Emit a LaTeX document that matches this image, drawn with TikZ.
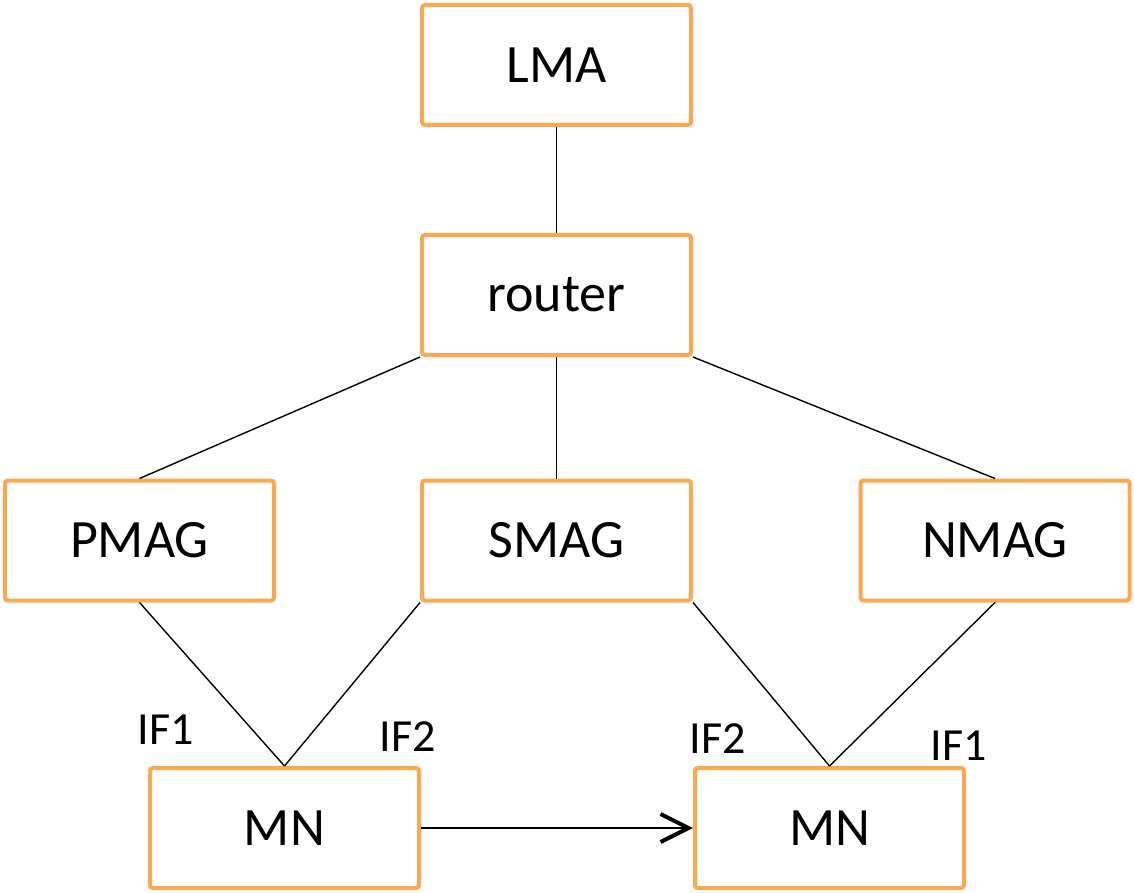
\documentclass[tikz,border=0pt]{standalone}
\usepackage{fontspec}
\setmainfont{Carlito}
\usetikzlibrary{arrows.meta,positioning}
\definecolor{boxorange}{RGB}{250,168,82}

\begin{document}
\begin{tikzpicture}[
    x=0.5pt, y=-0.5pt,
    ent/.style={draw=boxorange, line width=2pt, rounded corners=1.5pt, fill=white,
                minimum width=134.5pt, minimum height=60pt, font=\fontsize{27}{30}\selectfont},
    ifl/.style={font=\fontsize{23}{26}\selectfont},
    link/.style={line width=0.7pt},
  ]
    \useasboundingbox (0,0) rectangle (1134,893);
    \node[ent] (lma) at (556.5,65) {LMA};
    \node[ent] (rtr) at (556.5,295) {router};
    \node[ent] (pmag) at (139.5,540.5) {PMAG};
    \node[ent] (smag) at (556.5,540.5) {SMAG};
    \node[ent] (nmag) at (995,540.5) {NMAG};
    \node[ent] (mn1) at (284.5,828) {MN};
    \node[ent] (mn2) at (829.5,828) {MN};

    \draw[link] (lma) -- (rtr);
    \draw[link] (rtr.south west) -- (pmag.north);
    \draw[link] (rtr) -- (smag);
    \draw[link] (rtr.south east) -- (nmag.north);
    \draw[link] (pmag.south) -- (mn1.north);
    \draw[link] (smag.south west) -- (mn1.north);
    \draw[link] (smag.south east) -- (mn2.north);
    \draw[link] (nmag.south) -- (mn2.north);
    \draw[line width=1pt, -{Straight Barb[length=14pt, width=14pt, line width=2pt]}] (mn1) -- (mn2);

    % interface labels
    \node[ifl] (if1a) at (166,730) {IF1};
    \node[ifl] (if2a) at (408,737) {IF2};
    \node[ifl] (if2b) at (718,739) {IF2};
    \node[ifl] (if1b) at (959,746) {IF1};
  \end{tikzpicture}
\end{document}
